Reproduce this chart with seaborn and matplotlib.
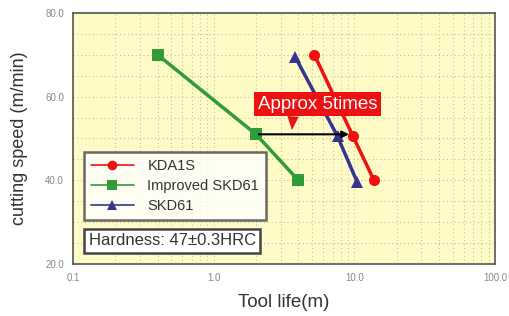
import numpy as np
import pandas as pd
import matplotlib
matplotlib.use("Agg")
import matplotlib.pyplot as plt
import matplotlib.ticker as mticker
import seaborn as sns

# data
steels = ["KDA1S", "Improved SKD61", "SKD61"]
kda1s_life = [5.2, 9.8, 13.8]
kda1s_speed = [70, 50.5, 40]
improved_life = [0.4, 2.0, 4.0]
improved_speed = [70, 51, 40]
skd61_life = [3.8, 7.6, 10.5]
skd61_speed = [69.5, 50.5, 39.5]
x_ticks = [0.1, 1.0, 10.0, 100.0]
x_tick_labels = ["0.1", "1.0", "10.0", "100.0"]
y_ticks = [20, 40, 60, 80]
y_tick_labels = ["20.0", "40.0", "60.0", "80.0"]

df = pd.concat([
    pd.DataFrame({"steel": steels[0], "life": kda1s_life, "speed": kda1s_speed}),
    pd.DataFrame({"steel": steels[1], "life": improved_life, "speed": improved_speed}),
    pd.DataFrame({"steel": steels[2], "life": skd61_life, "speed": skd61_speed}),
])

sns.set_style("white")
plt.rcParams["font.family"] = ["Liberation Sans", "DejaVu Sans"]

fig = plt.figure(figsize=(5.09, 3.16), dpi=100)
ax = fig.add_axes([73 / 509, 1 - 264 / 316, 422 / 509, 251 / 316])
ax.set_facecolor("#fffbc6")

palette = {"KDA1S": "#f01010", "Improved SKD61": "#2f9c38", "SKD61": "#34358f"}
markers = {"KDA1S": "o", "Improved SKD61": "s", "SKD61": "^"}
sns.lineplot(data=df, x="life", y="speed", hue="steel", style="steel",
             palette=palette, markers=markers, dashes=False, sort=False,
             linewidth=2.5, markersize=8, markeredgewidth=0, ax=ax,
             hue_order=steels, style_order=steels)

ax.set_xscale("log")
ax.set_xlim(0.1, 100)
ax.set_ylim(20, 80)
ax.set_xticks(x_ticks)
ax.set_xticklabels(x_tick_labels)
ax.xaxis.set_minor_locator(mticker.LogLocator(base=10, subs=np.arange(2, 10)))
ax.xaxis.set_minor_formatter(mticker.NullFormatter())
ax.set_yticks(y_ticks)
ax.set_yticklabels(y_tick_labels)
ax.yaxis.set_minor_locator(mticker.MultipleLocator(5))
ax.tick_params(axis="both", which="major", labelsize=7, labelcolor="#888888",
               length=3, color="#666666")
ax.tick_params(axis="both", which="minor", length=0)
ax.grid(True, which="both", color="#b5b5a0", linestyle=(0, (1, 3)), linewidth=0.7)

for s in ax.spines.values():
    s.set_color("#555555")
    s.set_linewidth(1.2)

ax.set_xlabel("Tool life(m)", fontsize=13.5, color="#333333", labelpad=8)
ax.set_ylabel("cutting speed (m/min)", fontsize=13, color="#333333", labelpad=12)

# arrow showing the improvement
ax.annotate("", xy=(9.6, 51), xytext=(2.0, 51),
            arrowprops=dict(arrowstyle="-|>", color="black", lw=1.5, mutation_scale=10))
ax.annotate("Approx 5times", xy=(3.6, 52), xytext=(5.45, 58.2),
            fontsize=13.5, color="white", ha="center", va="center",
            bbox=dict(boxstyle="square,pad=0.2", fc="#ee1111", ec="none"),
            arrowprops=dict(arrowstyle="wedge,tail_width=0.6", fc="#ee1111", ec="none",
                            shrinkA=0, shrinkB=0, relpos=(0.3, 0.0)))

leg = ax.legend(loc="upper left", bbox_to_anchor=(0.026, 0.445), frameon=True,
                fontsize=10.5, handlelength=3.0, borderpad=0.45, labelspacing=0.42,
                handletextpad=0.9, fancybox=False, borderaxespad=0)
leg.get_frame().set_edgecolor("#444444")
leg.get_frame().set_linewidth(1.8)
leg.get_frame().set_facecolor("white")
for t in leg.get_texts():
    t.set_color("#333333")
for h in leg.get_lines():
    h.set_linewidth(1.2)
    h.set_markersize(7)

ax.text(0.037, 0.092, "Hardness: 47±0.3HRC", fontsize=12, color="#333333", va="center",
        transform=ax.transAxes,
        bbox=dict(boxstyle="square,pad=0.25", fc="white", ec="#444444", lw=1.8))

fig.savefig("out.png", dpi=100)
